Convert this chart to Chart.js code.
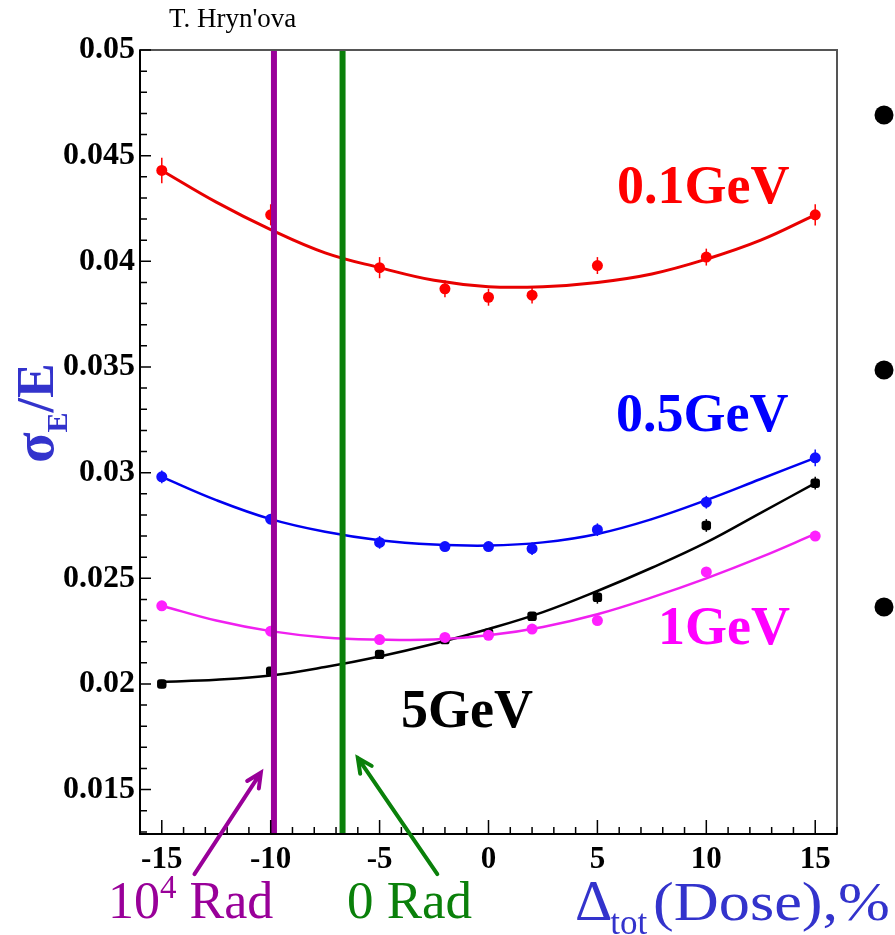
<!DOCTYPE html>
<html>
<head>
<meta charset="utf-8">
<script src="https://cdn.jsdelivr.net/npm/chart.js@4.4.1/dist/chart.umd.min.js"></script>
<style>
  html, body { margin: 0; padding: 0; background: #fff; }
  #wrap { width: 895px; height: 935px; }
</style>
</head>
<body>
<div id="wrap"><canvas id="chart" width="895" height="935"></canvas></div>
<script>
// measured points (dose change in %, relative resolution)
const doseX = [-15, -10, -5, -2, 0, 2, 5, 10, 15];
const res01 = [0.0443, 0.0422, 0.0397, 0.0387, 0.0383, 0.0384, 0.0398, 0.0402, 0.0422];
const err01 = [0.0006, 0.0005, 0.0005, 0.0004, 0.0004, 0.0004, 0.0004, 0.0004, 0.0005];
const res05 = [0.0298, 0.0278, 0.0267, 0.0265, 0.0265, 0.0264, 0.0273, 0.0286, 0.0307];
const err05 = [0.0003, 0.0002, 0.0003, 0.0002, 0.0002, 0.0003, 0.0003, 0.0003, 0.0004];
const res1 = [0.0237, 0.0225, 0.0221, 0.0222, 0.0223, 0.0226, 0.0230, 0.0253, 0.0270];
const err1 = [0.0002, 0.0002, 0.0002, 0.0002, 0.0002, 0.0002, 0.0002, 0.0002, 0.0002];
const res5 = [0.0200, 0.0206, 0.0214, 0.0221, 0.0224, 0.0232, 0.0241, 0.0275, 0.0295];
const err5 = [0.0002, 0.0002, 0.0002, 0.0002, 0.0002, 0.0002, 0.0003, 0.0003, 0.0003];

const fitX = [-15, -12.5, -10, -7.5, -5, -2.5, 0, 2.5, 5, 7.5, 10, 12.5, 15];
const fit01 = [0.0443, 0.0428, 0.0415, 0.0404, 0.0397, 0.0391, 0.0388, 0.0388, 0.0390, 0.0394, 0.0401, 0.0410, 0.0422];
const fit05 = [0.0298, 0.0287, 0.0278, 0.0272, 0.0268, 0.0266, 0.02655, 0.0267, 0.0271, 0.0278, 0.0287, 0.0297, 0.0307];
const fit1 = [0.0237, 0.0230, 0.0225, 0.0222, 0.0221, 0.0221, 0.0223, 0.0227, 0.0233, 0.0241, 0.0250, 0.0260, 0.0271];
const fit5 = [0.0201, 0.0202, 0.0204, 0.0208, 0.0213, 0.0219, 0.0226, 0.0234, 0.0244, 0.0255, 0.0267, 0.0281, 0.0295];

const xTicks = [-15, -10, -5, 0, 5, 10, 15];
const yTicks = [0.015, 0.02, 0.025, 0.03, 0.035, 0.04, 0.045, 0.05];
const radLines = [-9.85, -6.7];   // 10^4 Rad, 0 Rad

const X_MIN = -16, X_MAX = 16, Y_MIN = 0.0129, Y_MAX = 0.05;
const SERIF = "'Liberation Serif', 'Times New Roman', serif";
const PURPLE = '#990099', GREEN = '#0a800a', AXBLUE = '#3333cc';

const pts = (xs, ys) => xs.map((x, i) => ({ x: x, y: ys[i] }));

function pointSet(vals, color, style) {
    return {
        data: pts(doseX, vals), showLine: false, pointRadius: 5.5, pointStyle: style || 'circle',
        backgroundColor: color, borderColor: color, borderWidth: 0, order: 1
    };
}
function fitSet(vals, color, width) {
    return {
        data: pts(fitX, vals), showLine: true, pointRadius: 0, borderColor: color,
        borderWidth: width || 2.5, tension: 0.4, fill: false, order: 2
    };
}
function vline(x, color) {
    return {
        data: [{ x: x, y: Y_MIN }, { x: x, y: Y_MAX }], showLine: true, pointRadius: 0,
        borderColor: color, borderWidth: 6, order: 0
    };
}

const errSeries = [
    { vals: res01, err: err01, color: '#f00' },
    { vals: res05, err: err05, color: '#1010ff' },
    { vals: res1, err: err1, color: '#ff20ff' },
    { vals: res5, err: err5, color: '#000' }
];

// helper: draw text, return its width
function txt(ctx, s, x, y, font, color) {
    ctx.font = font;
    ctx.fillStyle = color;
    ctx.fillText(s, x, y);
    return ctx.measureText(s).width;
}

function arrow(ctx, x0, y0, x1, y1, color) {
    const a = Math.atan2(y1 - y0, x1 - x0), h = 16;
    ctx.strokeStyle = color;
    ctx.lineWidth = 4;
    ctx.lineCap = 'round';
    ctx.beginPath();
    ctx.moveTo(x0, y0);
    ctx.lineTo(x1, y1);
    ctx.moveTo(x1 - h * Math.cos(a - 0.45), y1 - h * Math.sin(a - 0.45));
    ctx.lineTo(x1, y1);
    ctx.lineTo(x1 - h * Math.cos(a + 0.45), y1 - h * Math.sin(a + 0.45));
    ctx.stroke();
}

const overlay = {
    id: 'overlay',
    beforeDatasetsDraw(chart) {
        const ctx = chart.ctx, xs = chart.scales.x, ys = chart.scales.y;
        ctx.save();
        ctx.lineWidth = 1.5;
        errSeries.forEach(s => {
            ctx.strokeStyle = s.color;
            doseX.forEach((x, i) => {
                const px = xs.getPixelForValue(x);
                ctx.beginPath();
                ctx.moveTo(px, ys.getPixelForValue(s.vals[i] - s.err[i]));
                ctx.lineTo(px, ys.getPixelForValue(s.vals[i] + s.err[i]));
                ctx.stroke();
            });
        });
        ctx.restore();
    },
    afterDraw(chart) {
        const ctx = chart.ctx, xs = chart.scales.x, ys = chart.scales.y;
        const a = chart.chartArea;
        ctx.save();

        // frame
        ctx.strokeStyle = '#555';
        ctx.lineWidth = 2;
        ctx.strokeRect(a.left, a.top, a.right - a.left, a.bottom - a.top);
        ctx.strokeStyle = '#000';
        ctx.beginPath();
        ctx.moveTo(a.left, a.top); ctx.lineTo(a.left, a.bottom); ctx.lineTo(a.right, a.bottom);
        ctx.stroke();

        // inward ticks
        ctx.lineWidth = 1.5;
        ctx.beginPath();
        for (let k = 13; k <= 50; k++) {
            const py = ys.getPixelForValue(k / 1000);
            if (py < a.top - 1 || py > a.bottom) continue;
            ctx.moveTo(a.left, py);
            ctx.lineTo(a.left + (k % 5 === 0 ? 11 : 7), py);
        }
        for (let v = X_MIN; v <= X_MAX; v++) {
            const px = xs.getPixelForValue(v);
            ctx.moveTo(px, a.bottom);
            ctx.lineTo(px, a.bottom - (v % 5 === 0 ? 14 : 7));
        }
        ctx.stroke();

        ctx.textAlign = 'left';
        ctx.textBaseline = 'alphabetic';

        txt(ctx, "T. Hryn'ova", 169, 27, '27px ' + SERIF, '#000');

        const bold = 'bold 54px ' + SERIF;
        txt(ctx, '0.1GeV', 617, 203, bold, '#ff0000');
        txt(ctx, '0.5GeV', 616, 431, bold, '#0000ff');
        txt(ctx, '1GeV', 658, 644, bold, '#ff00ff');
        txt(ctx, '5GeV', 401, 727, bold, '#000');

        // y title: sigma_E / E, rotated
        ctx.save();
        ctx.translate(53, 463);
        ctx.rotate(-Math.PI / 2);
        let w = txt(ctx, '\u03c3', 0, 0, 'bold 56px ' + SERIF, AXBLUE);
        w += txt(ctx, 'E', w, 14, 'bold 30px ' + SERIF, AXBLUE);
        txt(ctx, '/E', w, 0, 'bold 52px ' + SERIF, AXBLUE);
        ctx.restore();

        // bottom labels
        let x = 108;
        x += txt(ctx, '10', x, 918, '52px ' + SERIF, PURPLE);
        x += txt(ctx, '4', x, 898, '33px ' + SERIF, PURPLE);
        txt(ctx, ' Rad', x, 918, '52px ' + SERIF, PURPLE);
        txt(ctx, '0 Rad', 347, 918, '53px ' + SERIF, GREEN);

        x = 575;
        x += txt(ctx, '\u0394', x, 920, '58px ' + SERIF, AXBLUE);
        txt(ctx, 'tot', x - 2, 934, '35px ' + SERIF, AXBLUE);
        ctx.save();
        ctx.font = '54px ' + SERIF;
        const dw = ctx.measureText('(Dose),%').width;
        ctx.translate(653, 920);
        ctx.scale(237 / dw, 1);
        txt(ctx, '(Dose),%', 0, 0, '54px ' + SERIF, AXBLUE);
        ctx.restore();

        // arrows to the two dose lines
        arrow(ctx, xs.getPixelForValue(-13.5), ys.getPixelForValue(0.0110),
              xs.getPixelForValue(-10.45), ys.getPixelForValue(0.0158), PURPLE);
        arrow(ctx, xs.getPixelForValue(-2.35), ys.getPixelForValue(0.0110),
              xs.getPixelForValue(-6.0), ys.getPixelForValue(0.0165), GREEN);

        // slide bullets on the right
        ctx.fillStyle = '#000';
        [115, 370, 607].forEach(by => {
            ctx.beginPath();
            ctx.arc(884, by, 9.5, 0, Math.PI * 2);
            ctx.fill();
        });
        ctx.restore();
    }
};

new Chart(document.getElementById('chart'), {
    type: 'scatter',
    data: {
        datasets: [
            vline(radLines[0], PURPLE),
            vline(radLines[1], GREEN),
            pointSet(res01, '#ff0000'),
            pointSet(res05, '#1010ff'),
            pointSet(res1, '#ff20ff'),
            pointSet(res5, '#000000', 'rectRounded'),
            fitSet(fit01, '#e80000', 3),
            fitSet(fit05, '#0000f0'),
            fitSet(fit1, '#f020f0'),
            fitSet(fit5, '#000000')
        ]
    },
    options: {
        responsive: false,
        animation: false,
        devicePixelRatio: 1,
        layout: { padding: { left: 0, top: 50, right: 58, bottom: 0 } },
        plugins: { legend: { display: false }, tooltip: { enabled: false } },
        scales: {
            x: {
                type: 'linear', min: X_MIN, max: X_MAX,
                afterBuildTicks: s => { s.ticks = xTicks.map(v => ({ value: v })); },
                afterFit: s => { s.height = 101; },
                grid: { display: false, drawTicks: false },
                border: { display: false },
                ticks: {
                    font: { family: SERIF, size: 31, weight: 'bold' }, color: '#000',
                    padding: 7, maxRotation: 0, autoSkip: false,
                    callback: v => String(v)
                }
            },
            y: {
                type: 'linear', min: Y_MIN, max: Y_MAX,
                afterBuildTicks: s => { s.ticks = yTicks.map(v => ({ value: v })); },
                afterFit: s => { s.width = 140; },
                grid: { display: false, drawTicks: false },
                border: { display: false },
                ticks: {
                    font: { family: SERIF, size: 32, weight: 'bold' }, color: '#000',
                    padding: 5, autoSkip: false,
                    callback: v => String(+Number(v).toFixed(3))
                }
            }
        }
    },
    plugins: [overlay]
});
</script>
</body>
</html>
